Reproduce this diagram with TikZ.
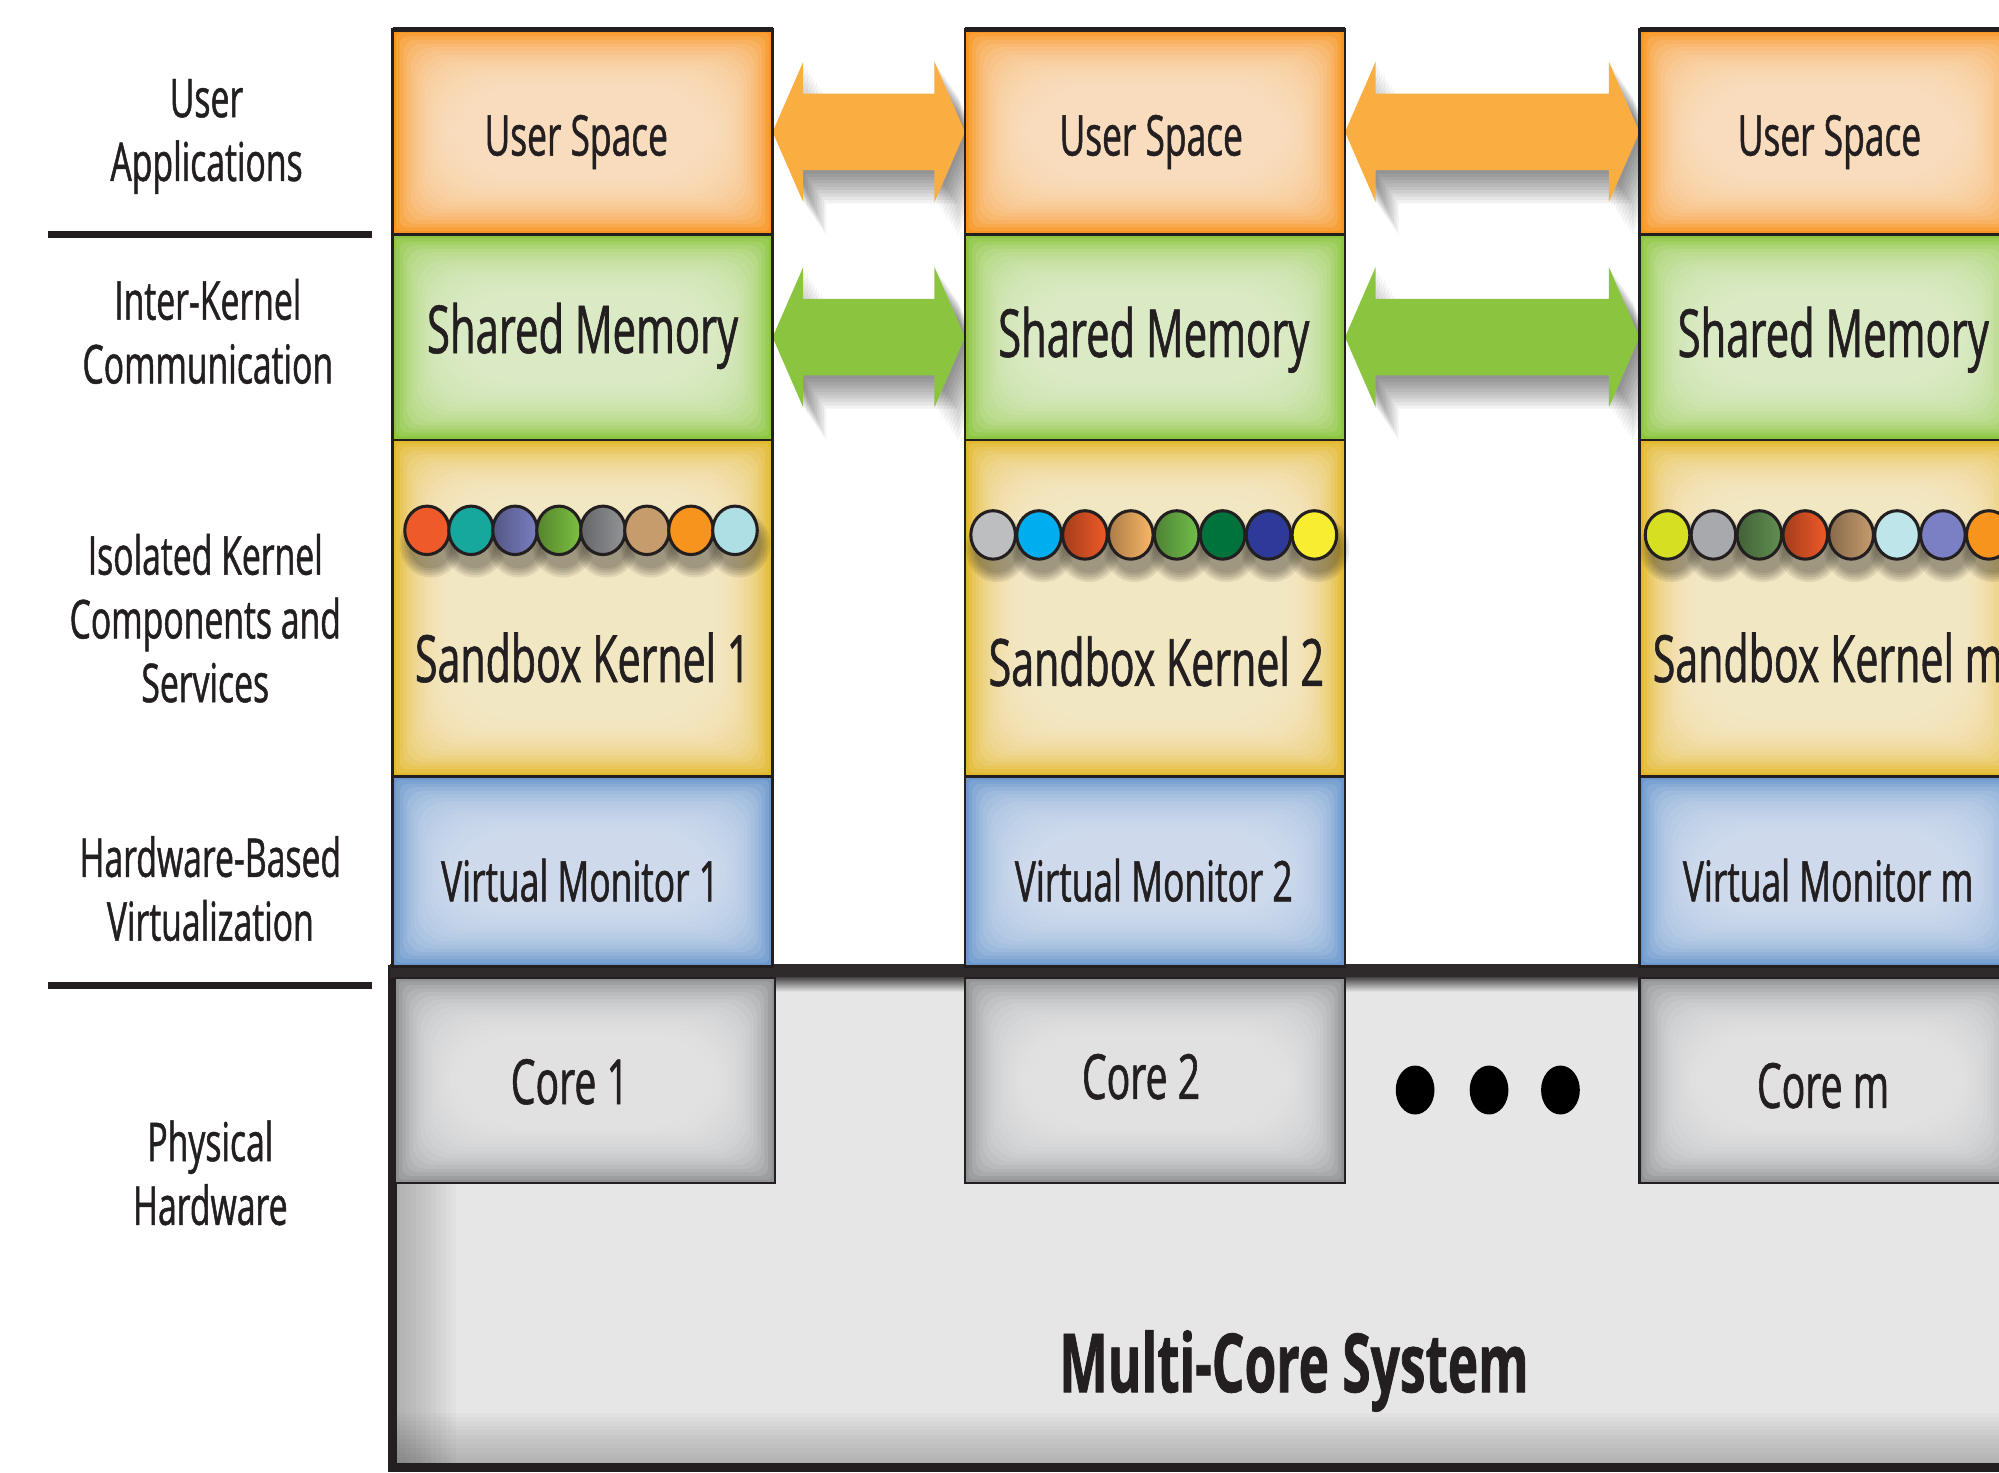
\documentclass[tikz,border=0pt]{standalone}
\usepackage{fontspec}
\setmainfont{Open Sans}[FakeStretch=0.63, FakeBold=0.9]
\usetikzlibrary{calc}
\definecolor{ink}{HTML}{231F20}
\definecolor{orE}{HTML}{F7941E}
\definecolor{orC}{HTML}{FEE6CE}
\definecolor{grE}{HTML}{8CC63F}
\definecolor{grC}{HTML}{E4F0D4}
\definecolor{yeE}{HTML}{E3B82C}
\definecolor{yeC}{HTML}{F8EED3}
\definecolor{blE}{HTML}{6A97CD}
\definecolor{blC}{HTML}{DAE3F2}
\definecolor{coE}{HTML}{909295}
\definecolor{coC}{HTML}{EBEBEC}
\definecolor{mcF}{HTML}{E6E6E6}
\definecolor{arO}{HTML}{FAAD40}
\definecolor{arG}{HTML}{8BC53F}

\tikzset{
  cellbox/.style={rectangle, inner sep=0pt, outer sep=0pt, minimum width=149pt},
  cellline/.style={draw=ink, line width=1pt},
  fUS/.style={font=\fontsize{22}{26}\selectfont, text=ink, inner sep=0pt, anchor=base},
  fSM/.style={font=\fontsize{26}{30}\selectfont, text=ink, inner sep=0pt, anchor=base},
  fSK/.style={font=\fontsize{25.6}{30}\selectfont, text=ink, inner sep=0pt, anchor=base},
  fVM/.style={font=\fontsize{22}{26}\selectfont, text=ink, inner sep=0pt, anchor=base},
  fCO/.style={font=\fontsize{24.4}{28}\selectfont, text=ink, inner sep=0pt, anchor=base},
  fMC/.style={font=\fontsize{32}{36}\selectfont\bfseries, text=ink, inner sep=0pt, anchor=base},
  fL/.style={font=\fontsize{21}{25}\selectfont, text=ink, inner sep=0pt, align=center},
  rule/.style={line width=2.6pt, draw=ink},
}

% glow-filled rectangle of a named node
\newcommand\glowcell[3]{%
  \fill[#2] (#1.south west) rectangle (#1.north east);
  \foreach \k in {1,...,16}{%
    \pgfmathsetmacro\dd{\k*1.4}%
    \pgfmathsetmacro\rc{\k*1.6}%
    \fill[#3, opacity=0.15, rounded corners=\rc pt]
      ($(#1.south west)+(\dd pt,\dd pt)$) rectangle ($(#1.north east)-(\dd pt,\dd pt)$);
  }%
  \draw[cellline] (#1.south west) rectangle (#1.north east);
}

% fat double arrow between two points
\newcommand\arrowpath[2]{%
  ($(#1)$) -- ($(#1)+(24,-55)$) -- ($(#1)+(24,-30)$) -- ($(#2)+(-24,-30)$)
  -- ($(#2)+(-24,-55)$) -- ($(#2)$) -- ($(#2)+(-24,55)$) -- ($(#2)+(-24,30)$)
  -- ($(#1)+(24,30)$) -- ($(#1)+(24,55)$) -- cycle}
\newcommand\fatarrow[3]{%
  \foreach \s in {1,...,10}{%
    \pgfmathsetmacro\sx{\s*0.9}%
    \pgfmathsetmacro\sy{-\s*1.3}%
    \begin{scope}[transform canvas={xshift=\sx pt, yshift=\sy pt}]
      \fill[black, opacity=0.05] \arrowpath{#1}{#2};
    \end{scope}
  }%
  \fill[#3] \arrowpath{#1}{#2};
}

% row of coloured beads
\newcommand\beadrow[4]{%
  \foreach \c [count=\i from 0] in {#4}{%
    \pgfmathsetmacro\bx{#1+\i*#2}%
    \foreach \k in {0,...,4}{%
      \pgfmathsetmacro\rx{8.75+3.5-\k*0.9}%
      \pgfmathsetmacro\ry{9.5+3.5-\k*0.9}%
      \fill[black, opacity=0.08] ({\bx+3},{#3+11}) ellipse [x radius=\rx pt, y radius=\ry pt];
    }%
  }%
  \foreach \c [count=\i from 0] in {#4}{%
    \pgfmathsetmacro\bx{#1+\i*#2}%
    \pgfmathtruncatemacro\dk{(\i>1)&&(\i<5)}%
    \definecolor{bc}{HTML}{\c}%
    \ifnum\dk=1
      \shade[left color=bc!68!black, middle color=bc, right color=bc] ({\bx},#3) ellipse [x radius=8.75pt, y radius=9.5pt];
    \else
      \fill[bc] ({\bx},#3) ellipse [x radius=8.75pt, y radius=9.5pt];
    \fi
    \draw[ink, line width=1.2pt] ({\bx},#3) ellipse [x radius=8.75pt, y radius=9.5pt];
  }%
}

\begin{document}
\begin{tikzpicture}[x=0.5pt, y=-0.5pt]
\useasboundingbox (0,0) rectangle (1568,1155);
\clip (0,0) rectangle (1568,1155);
\fill[white] (0,0) rectangle (1568,1155);

% ---------- multi-core base ----------
\fill[mcF] (308,760) rectangle (1600,1152);
\foreach \k in {1,...,12}{%
  \fill[black, opacity=0.018] (308,760) rectangle ({310+\k*4},1152);
  \fill[black, opacity=0.018] (308,{1150-\k*3.5}) rectangle (1600,1152);
}
\draw[line width=3.4pt, draw=ink] (308,757) -- (308,1151) -- (1600,1151);
\fill[ink!95] (306,756) rectangle (1600,767);
\shade[top color=ink!80, bottom color=mcF] (606,767) rectangle (757,778);
\shade[top color=ink!80, bottom color=mcF] (1055,767) rectangle (1286,778);

% ---------- cells ----------
\foreach \n/\cx in {1/457, 2/906, 3/1435}{%
  \node[cellbox, minimum height=80.5pt] (us\n) at (\cx,103.5) {};
  \node[cellbox, minimum height=80.5pt] (sm\n) at (\cx,264.5) {};
  \node[cellbox, minimum height=132pt] (sk\n) at (\cx,477) {};
  \node[cellbox, minimum height=74.5pt] (vm\n) at (\cx,683.5) {};
}
\node[cellbox, minimum height=80.5pt] (co1) at (459,847.5) {};
\node[cellbox, minimum height=80.5pt] (co2) at (906,847.5) {};
\node[cellbox, minimum height=80.5pt] (co3) at (1435,847.5) {};

% ---------- arrows (behind columns) ----------
\fatarrow{us1.east}{us2.west}{arO}
\fatarrow{us2.east}{us3.west}{arO}
\fatarrow{sm1.east}{sm2.west}{arG}
\fatarrow{sm2.east}{sm3.west}{arG}

\foreach \n in {1,2,3}{%
  \glowcell{us\n}{orE}{orC}
  \glowcell{sm\n}{grE}{grC}
  \glowcell{sk\n}{yeE}{yeC}
  \glowcell{vm\n}{blE}{blC}
  \draw[ink, line width=1.8pt] (us\n.north west) -- (us\n.north east);
}
\glowcell{co1}{coE}{coC}
\glowcell{co2}{coE}{coC}
\glowcell{co3}{coE}{coC}

% ---------- beads ----------
\beadrow{335}{34.5}{416}{EF5A2B,16A89C,7A7FC2,7DC242,939598,C69C6D,F7941D,AEDFE5}
\beadrow{779}{36}{419.6}{BCBEC0,00AEEF,F05A28,FBB767,72BF4B,00733D,2E3A97,F9ED32}
\beadrow{1308}{36}{419.6}{D7DF23,A7A9AC,628F52,F05A28,C69C6D,BDE5EA,7B7FC4,F7941D}

% ---------- texts in cells ----------
\node[fUS] (us1t) at (452,122) {User Space};
\node[fUS] (us2t) at (903,122) {User Space};
\node[fUS] (us3t) at (1435,122) {User Space};
\node[fSM] (sm1t) at (457,277) {Shared Memory};
\node[fSM] (sm2t) at (905,280) {Shared Memory};
\node[fSM] (sm3t) at (1438,280) {Shared Memory};
\node[fSK] (sk1t) at (457,535) {Sandbox Kernel 1};
\node[fSK] (sk2t) at (907,538) {Sandbox Kernel 2};
\node[fSK, anchor=base west] (sk3t) at (1296,535) {Sandbox Kernel m};
\node[fVM] (vm1t) at (455,707) {Virtual Monitor 1};
\node[fVM] (vm2t) at (905,707) {Virtual Monitor 2};
\node[fVM] (vm3t) at (1434,707) {Virtual Monitor m};
\node[fCO] (co1t) at (447,866) {Core 1};
\node[fCO] (co2t) at (895,862) {Core 2};
\node[fCO] (co3t) at (1430,869) {Core m};
\node[fMC] (mct) at (1015,1092) {Multi-Core System};

% dots
\fill[black] (1110,855) ellipse [x radius=7.6pt, y radius=9.6pt];
\fill[black] (1168,855) ellipse [x radius=7.6pt, y radius=9.6pt];
\fill[black] (1224,855) ellipse [x radius=7.6pt, y radius=9.6pt];

% ---------- left labels ----------
\node[fL] (l1) at (162,107) {User\\Applications};
\node[fL] (l2) at (163,260) {Inter-Kernel\\Communication};
\node[fL] (l3) at (161,485) {Isolated Kernel\\Components and\\Services};
\node[fL] (l4) at (165,697) {Hardware-Based\\Virtualization};
\node[fL] (l5) at (165,920) {Physical\\Hardware};
\draw[rule] (38,184) -- (292,184);
\draw[rule] (38,773) -- (292,773);
\end{tikzpicture}
\end{document}
